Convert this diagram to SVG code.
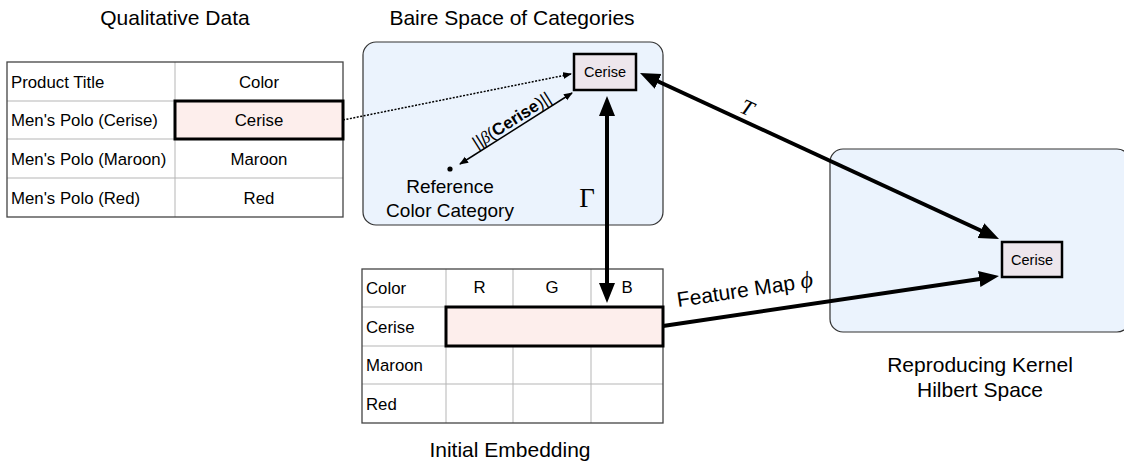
<svg xmlns="http://www.w3.org/2000/svg" width="1124" height="461" viewBox="0 0 1124 461">
<defs>
<style>
.t{font-family:"Liberation Sans",Arial,sans-serif;fill:#000}
.title{font-size:21px;text-anchor:middle}
.lab{font-size:19px;text-anchor:middle}
.cell{font-size:16.8px}
.mid{text-anchor:middle}
.space{fill:#ebf3fd;stroke:#333;stroke-width:1.2}
.grid{stroke:#b5b5b5;stroke-width:1;fill:none}
.frame{fill:none;stroke:#444;stroke-width:1.3}
.hl{fill:#fdeeec;stroke:#000;stroke-width:3}
.node{fill:#ede6ec;stroke:#000;stroke-width:2.5}
.thick{stroke:#000;stroke-width:4;fill:none}
.thin{stroke:#000;stroke-width:1.5;fill:none}
.math{font-family:"Liberation Serif","Times New Roman",serif;font-style:italic}
</style>
<marker id="big" markerUnits="userSpaceOnUse" markerWidth="22" markerHeight="18" refX="4" refY="8" orient="auto-start-reverse" viewBox="0 0 22 18">
<path d="M0,0 L20,8 L0,16 z" fill="#000"/>
</marker>
<marker id="small" markerUnits="userSpaceOnUse" markerWidth="10" markerHeight="8" refX="8" refY="3.5" orient="auto-start-reverse" viewBox="0 0 10 8">
<path d="M0,0 L9,3.5 L0,7 z" fill="#000"/>
</marker>
</defs>
<rect width="1124" height="461" fill="#fff"/>

<!-- Qualitative data table -->
<g id="qualitative-data">
<text class="t title" x="175" y="25">Qualitative Data</text>
<rect x="7" y="62" width="336" height="155" fill="#fff"/>
<rect x="175" y="101" width="168" height="38" fill="#fdeeec"/>
<path class="grid" d="M175,62 V217 M7,101 H343 M7,139 H343 M7,178 H343"/>
<rect class="frame" x="7" y="62" width="336" height="155"/>
<rect class="hl" x="175" y="101" width="168" height="38" fill="none"/>
<text class="t cell" x="11" y="88">Product Title</text>
<text class="t cell mid" x="259" y="88">Color</text>
<text class="t cell" x="11" y="126">Men's Polo (Cerise)</text>
<text class="t cell mid" x="259" y="126">Cerise</text>
<text class="t cell" x="11" y="165">Men's Polo (Maroon)</text>
<text class="t cell mid" x="259" y="165">Maroon</text>
<text class="t cell" x="11" y="204">Men's Polo (Red)</text>
<text class="t cell mid" x="259" y="204">Red</text>
</g>

<!-- Baire space -->
<g id="baire-space">
<text class="t title" x="512" y="25">Baire Space of Categories</text>
<rect class="space" x="363" y="42" width="300" height="183" rx="13"/>
<circle cx="450" cy="169" r="2.6" fill="#000"/>
<text class="t lab" x="450" y="193">Reference</text>
<text class="t lab" x="450" y="217">Color Category</text>
</g>
<g id="baire-cerise">
<rect class="node" x="574" y="54" width="62" height="36"/>
<text class="t mid" x="605" y="77" font-size="14.5">Cerise</text>
</g>

<!-- Initial embedding table -->
<g id="initial-embedding">
<rect x="362" y="269" width="301" height="154" fill="#fff"/>
<rect x="446" y="307" width="217" height="39" fill="#fdeeec"/>
<path class="grid" d="M446,269 V423 M513,269 V423 M591,269 V423 M362,307 H663 M362,346 H663 M362,384 H663"/>
<rect class="frame" x="362" y="269" width="301" height="154"/>
<rect class="hl" x="446" y="307" width="217" height="39" fill="none"/>
<text class="t cell" x="366" y="294">Color</text>
<text class="t cell mid" x="479.5" y="293">R</text>
<text class="t cell mid" x="552" y="293">G</text>
<text class="t cell mid" x="627" y="293">B</text>
<text class="t cell" x="366" y="333">Cerise</text>
<text class="t cell" x="366" y="371">Maroon</text>
<text class="t cell" x="366" y="410">Red</text>
<text class="t title" x="510" y="457">Initial Embedding</text>
</g>

<!-- RKHS -->
<g id="rkhs">
<rect class="space" x="830" y="149" width="300" height="183" rx="13"/>
<text class="t title" x="980" y="372">Reproducing Kernel</text>
<text class="t title" x="980" y="397">Hilbert Space</text>
</g>
<g id="rkhs-cerise">
<rect class="node" x="1002" y="242" width="60" height="35"/>
<text class="t mid" x="1032" y="265" font-size="14.5">Cerise</text>
</g>

<!-- Connectors -->
<g id="connectors">
<line class="thin" x1="343" y1="120" x2="571" y2="74" stroke-dasharray="2,1.5" marker-end="url(#small)"/>
<line class="thin" x1="460" y1="164" x2="572" y2="93" marker-start="url(#small)" marker-end="url(#small)"/>
<text class="t" transform="translate(512,121) rotate(-32.4)" text-anchor="middle" y="5" font-size="17"><tspan font-weight="normal">||</tspan><tspan class="math">β</tspan><tspan>(</tspan><tspan font-weight="bold">Cerise</tspan><tspan>)||</tspan></text>
<line class="thick" x1="607" y1="112" x2="607" y2="287" marker-start="url(#big)" marker-end="url(#big)"/>
<text x="587" y="207" font-family="Liberation Serif,serif" font-size="27" text-anchor="middle">Γ</text>
<line class="thick" x1="654.5" y1="79.7" x2="984.5" y2="232.3" marker-start="url(#big)" marker-end="url(#big)"/>
<text class="math" transform="translate(747,108) rotate(24.8)" text-anchor="middle" y="7" font-size="22">T</text>
<line class="thick" x1="663" y1="326" x2="983.2" y2="278.4" marker-end="url(#big)"/>
<text transform="translate(745,291) rotate(-8.5)" text-anchor="middle" y="6"><tspan class="t" font-size="21">Feature Map </tspan><tspan class="math" font-size="24">ϕ</tspan></text>
</g>
</svg>
